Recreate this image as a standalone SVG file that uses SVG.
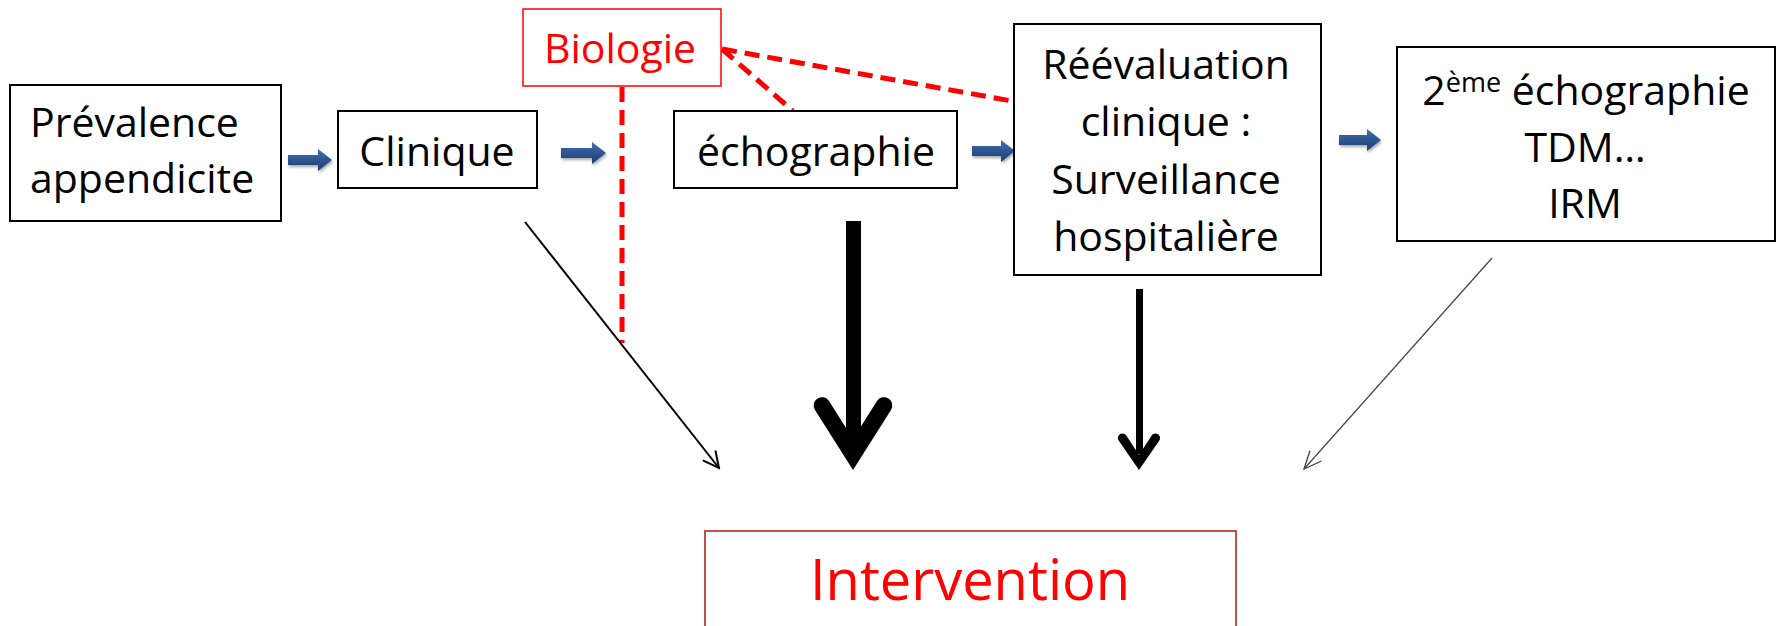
<svg xmlns="http://www.w3.org/2000/svg" width="1783" height="626" viewBox="0 0 1783 626">
<style>
.box{fill:#fff;stroke:#000;stroke-width:2}
.t{font-family:"Open Sans","Liberation Sans",sans-serif;font-size:41px;fill:#000}
.c{text-anchor:middle}
.red{fill:#f00}
.dash{stroke:#f00;stroke-width:5;stroke-dasharray:15 8;fill:none}
.blue{fill:url(#bg);filter:url(#sh)}
</style>
<defs>
<linearGradient id="bg" x1="0" y1="0" x2="0" y2="1">
<stop offset="0" stop-color="#4472b4"/>
<stop offset="0.5" stop-color="#2c5590"/>
<stop offset="1" stop-color="#1f3f6e"/>
</linearGradient>
<filter id="sh" x="-20%" y="-30%" width="150%" height="180%">
<feGaussianBlur in="SourceAlpha" stdDeviation="1.5"/>
<feOffset dx="1" dy="2" result="b"/>
<feComponentTransfer><feFuncA type="linear" slope="0.35"/></feComponentTransfer>
<feMerge><feMergeNode/><feMergeNode in="SourceGraphic"/></feMerge>
</filter>
<marker id="open" viewBox="0 0 20 20" refX="18" refY="10" markerWidth="20" markerHeight="20" markerUnits="userSpaceOnUse" orient="auto">
<path d="M2,2 L18,10 L2,18" fill="none" stroke="#000" stroke-width="2"/>
</marker>
<marker id="openThin" viewBox="0 0 20 20" refX="18" refY="10" markerWidth="22" markerHeight="22" markerUnits="userSpaceOnUse" orient="auto">
<path d="M2,3 L18,10 L2,17" fill="none" stroke="#444" stroke-width="1.2"/>
</marker>
</defs>
<rect width="1783" height="626" fill="#fff"/>

<g id="connectors">
<path class="dash" d="M622,87 L622,343"/>
<path class="dash" d="M722,49 L793,111"/>
<path class="dash" d="M722,49 L1012,101"/>
<path class="blue" d="M288,155 L318,155 L318,149 L332,160 L318,171 L318,165 L288,165 Z"/>
<path class="blue" d="M561,148 L592,148 L592,142 L606,153 L592,164 L592,158 L561,158 Z"/>
<path class="blue" d="M972,146 L1001,146 L1001,140 L1015,151 L1001,162 L1001,156 L972,156 Z"/>
<path class="blue" d="M1339,135 L1367,135 L1367,129 L1381,140 L1367,151 L1367,145 L1339,145 Z"/>
<line x1="525" y1="222" x2="719" y2="468" stroke="#000" stroke-width="2" marker-end="url(#open)"/>
<line x1="1492" y1="258" x2="1304" y2="469" stroke="#444" stroke-width="1.2" marker-end="url(#openThin)"/>
<rect x="846" y="221" width="15" height="220" fill="#000"/>
<path d="M853,470 L815,410 A8,8 0 0 1 829,401 L853,439 L877,401 A8,8 0 0 1 891,410 Z" fill="#000"/>
<rect x="1136" y="289" width="7" height="165" fill="#000"/>
<path d="M1139,470 L1119,441 A4,4 0 0 1 1126,435 L1139,455 L1152,435 A4,4 0 0 1 1159,441 Z" fill="#000"/>
</g>

<g id="prevalence">
<rect class="box" x="10" y="85" width="271" height="136"/>
<text class="t"><tspan x="30" y="137">Prévalence</tspan><tspan x="30" y="193">appendicite</tspan></text>
</g>

<g id="clinique">
<rect class="box" x="338" y="111" width="199" height="77"/>
<text class="t c" x="437" y="166">Clinique</text>
</g>

<g id="biologie">
<rect x="523" y="9" width="198" height="77" fill="#fff" stroke="#f00" stroke-width="1.5"/>
<text class="t c red" x="620" y="63">Biologie</text>
</g>

<g id="echographie">
<rect class="box" x="674" y="111" width="283" height="77"/>
<text class="t c" x="816" y="166">échographie</text>
</g>

<g id="reevaluation">
<rect class="box" x="1014" y="24" width="307" height="251"/>
<text class="t c"><tspan x="1166" y="79">Réévaluation</tspan><tspan x="1166" y="136">clinique :</tspan><tspan x="1166" y="194">Surveillance</tspan><tspan x="1166" y="251">hospitalière</tspan></text>
</g>

<g id="imagerie">
<rect class="box" x="1397" y="47" width="378" height="194"/>
<text class="t c" x="1586" y="105">2<tspan font-size="27" dy="-13">ème</tspan><tspan dy="13"> échographie</tspan></text>
<text class="t c"><tspan x="1585" y="162">TDM…</tspan><tspan x="1585" y="218">IRM</tspan></text>
</g>

<g id="intervention">
<rect x="705" y="531" width="531" height="100" fill="#fff" stroke="#c0504d" stroke-width="2"/>
<text class="t c red" x="970" y="600" style="font-size:56px">Intervention</text>
</g>
</svg>
